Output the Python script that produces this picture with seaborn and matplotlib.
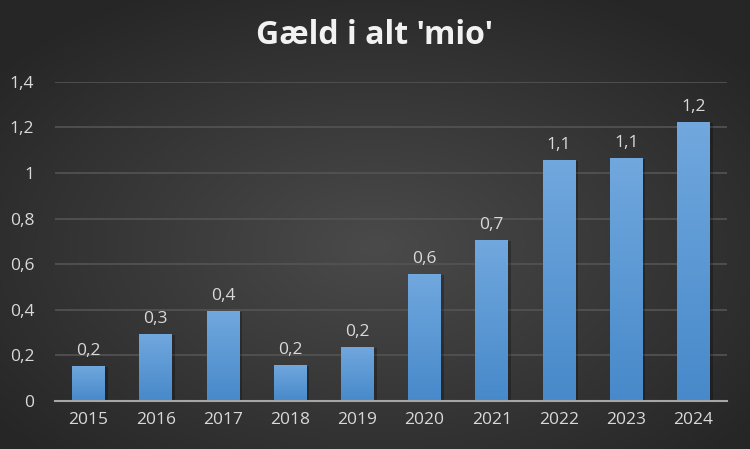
import numpy as np
import pandas as pd
import seaborn as sns
import matplotlib.pyplot as plt
from matplotlib.colors import LinearSegmentedColormap

years = ["2015", "2016", "2017", "2018", "2019", "2020", "2021", "2022", "2023", "2024"]
gaeld = [0.155, 0.295, 0.395, 0.158, 0.237, 0.557, 0.706, 1.057, 1.066, 1.223]
y_ticks = [0, 0.2, 0.4, 0.6, 0.8, 1.0, 1.2, 1.4]

df = pd.DataFrame({"year": years, "gaeld": gaeld})

sns.set_style("dark")
plt.rcParams['font.family'] = ['Open Sans', 'DejaVu Sans']

fig = plt.figure(figsize=(7.5, 4.49), dpi=100)

# radial dark background
bg = fig.add_axes([0, 0, 1, 1], zorder=-10)
xx, yy = np.meshgrid(np.linspace(-1, 1, 400), np.linspace(-1, 1, 240))
r = np.sqrt(xx ** 2 + (yy + 0.1) ** 2)
r = np.clip(r / 1.3, 0, 1)
bg_cmap = LinearSegmentedColormap.from_list("bg", ["#4a4a4a", "#262626"])
bg.imshow(r, cmap=bg_cmap, aspect="auto", extent=[0, 1, 0, 1], origin="lower")
bg.axis("off")

ax = fig.add_axes([0.0733, 0.107, 0.896, 0.711])
ax.patch.set_alpha(0)
sns.barplot(data=df, x="year", y="gaeld", color="#5b9bd5", width=0.49, ax=ax,
            zorder=3, linewidth=0, edgecolor="none")

# gradient fill for each bar
bar_cmap = LinearSegmentedColormap.from_list("bar", ["#4789ca", "#71a8de"])
grad = np.linspace(0, 1, 256).reshape(-1, 1)
for p in ax.patches:
    x0, w, h = p.get_x(), p.get_width(), p.get_height()
    # soft shadow
    ax.add_patch(plt.Rectangle((x0 + 0.02, 0), w + 0.02, h - 0.005, color="black",
                               alpha=0.25, zorder=2, lw=0))
    im = ax.imshow(grad, cmap=bar_cmap, aspect="auto", origin="lower",
                   extent=[x0, x0 + w, 0, h], zorder=4)
    im.set_clip_path(p)
    ax.text(x0 + w / 2, h + 0.03, f"{h:.1f}".replace(".", ","), ha="center", va="bottom",
            color="#d9d9d9", fontsize=12.5, zorder=5)

ax.set_xlim(-0.5, len(years) - 0.5)
ax.set_ylim(0, 1.4)
ax.set_yticks(y_ticks)
ax.set_yticklabels([f"{t:g}".replace(".", ",") for t in y_ticks])
ax.yaxis.grid(True, color="#545454", lw=1.2, zorder=0)
ax.xaxis.grid(False)
for s in ["top", "right", "left"]:
    ax.spines[s].set_visible(False)
ax.spines["bottom"].set_color("#a6a6a6")
ax.spines["bottom"].set_linewidth(1.5)
ax.spines["bottom"].set_zorder(6)
ax.tick_params(axis="both", colors="#d9d9d9", labelsize=12.5, length=0)
ax.tick_params(axis="y", pad=15)
ax.tick_params(axis="x", pad=8)
ax.set_xlabel("")
ax.set_ylabel("")

fig.text(0.5, 0.92, "Gæld i alt 'mio'", ha="center", va="center", color="#f2f2f2",
         fontsize=23, fontweight="bold")

plt.savefig("out.png", dpi=100)
